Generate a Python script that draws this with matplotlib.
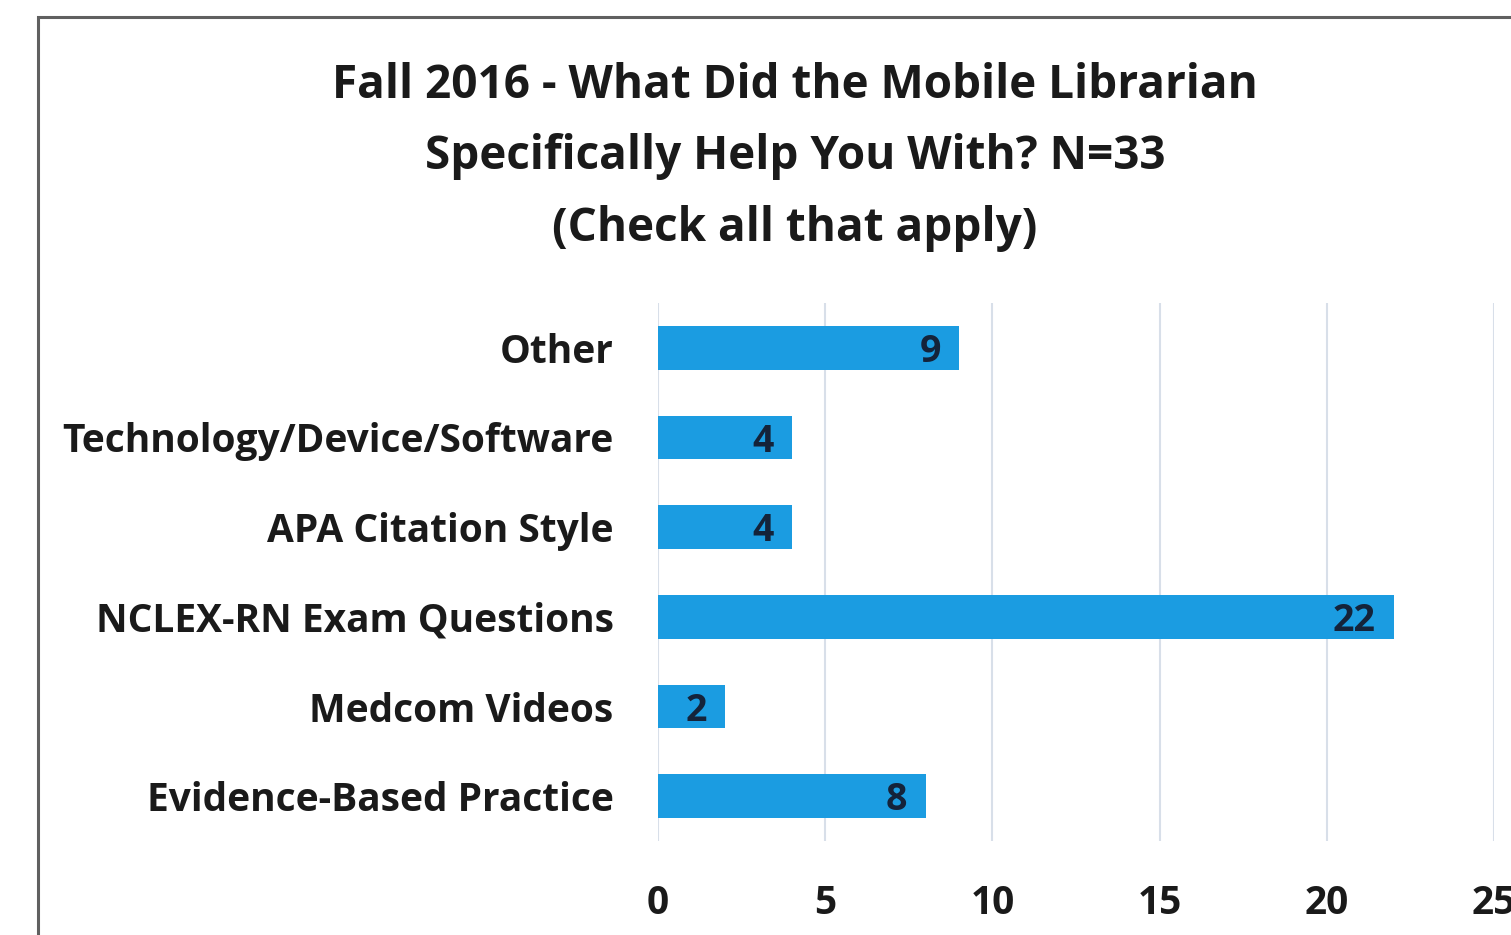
import matplotlib.pyplot as plt
from matplotlib.patches import Rectangle

categories = ['Evidence-Based Practice', 'Medcom Videos', 'NCLEX-RN Exam Questions',
              'APA Citation Style', 'Technology/Device/Software', 'Other']
counts = [8, 2, 22, 4, 4, 9]
xticks = [0, 5, 10, 15, 20, 25]
title_lines = ['Fall 2016 - What Did the Mobile Librarian',
               'Specifically Help You With? N=33',
               '(Check all that apply)']

plt.rcParams['font.family'] = ['Open Sans', 'DejaVu Sans']
plt.rcParams['font.weight'] = 'bold'

fig = plt.figure(figsize=(15.11, 9.35), dpi=100)
ax = fig.add_axes([658 / 1511, 1 - 841 / 935, 836 / 1511, 538 / 935])

# chart border (runs off the right and bottom edges)
fig.patches.append(Rectangle((38 / 1511, -0.05), 1.1, 1 - 17 / 935 + 0.05,
                             transform=fig.transFigure, fill=False,
                             edgecolor='#606060', linewidth=2.2))

ypos = range(len(categories))
ax.barh(ypos, counts, height=0.49, color='#1b9ce1', zorder=3)
for y, v in zip(ypos, counts):
    ax.annotate(str(v), (v, y), xytext=(-13, -3), textcoords='offset points',
                ha='right', va='center', fontsize=27, fontweight='bold',
                color='#14233a', zorder=4)

ax.set_xlim(0, 25)
ax.set_ylim(-0.5, len(categories) - 0.5)
ax.set_xticks(xticks)
ax.set_yticks(list(ypos))
ax.set_yticklabels(categories)
ax.tick_params(axis='y', length=0, pad=32, labelsize=28, labelcolor='#1a1a1a')
ax.tick_params(axis='x', length=0, pad=31, labelsize=28, labelcolor='#1a1a1a')
ax.grid(axis='x', color='#d8dfe9', linewidth=1.5, zorder=0)
for s in ax.spines.values():
    s.set_visible(False)

for i, line in enumerate(title_lines):
    fig.text(795 / 1511, 1 - (86 + 71 * i) / 935, line, ha='center', va='center',
             fontsize=33, fontweight='bold', color='#1a1a1a')

fig.savefig('out.png', dpi=100)
